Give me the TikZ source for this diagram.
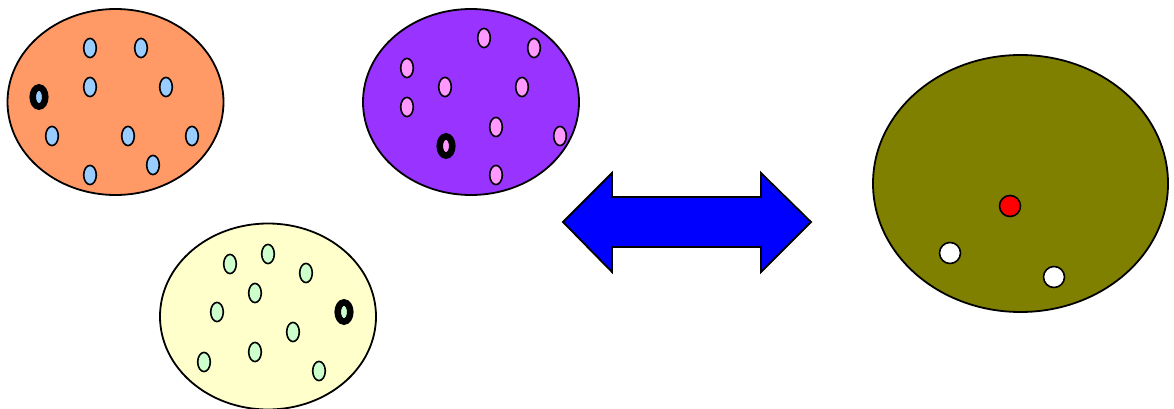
\documentclass[tikz,border=0pt]{standalone}
\begin{document}
\begin{tikzpicture}[x=1pt,y=-1pt,
  blob/.style={draw=black,line width=1.8pt},
  spot/.style={draw=black,line width=1.6pt},
  ringspot/.style={draw=black,line width=6.5pt}]
\definecolor{orangeblob}{HTML}{FF9966}
\definecolor{purpleblob}{HTML}{9933FF}
\definecolor{yellowblob}{HTML}{FFFFCC}
\definecolor{oliveblob}{HTML}{808000}
\definecolor{bluespot}{HTML}{99CCFF}
\definecolor{pinkspot}{HTML}{FF99FF}
\definecolor{greenspot}{HTML}{CCFFCC}
\useasboundingbox (0,0) rectangle (1174,409);
% orange
\draw[blob,fill=orangeblob] (115.5,102) ellipse [x radius=108, y radius=93];
\foreach \p in {(90,48),(141,48),(90,87),(166,87),(52,136),(128,136),(192,136),(153,165),(90,175)}
  \draw[spot,fill=bluespot] \p ellipse [x radius=6.3, y radius=9.6];
\draw[ringspot,fill=bluespot] (39,97) ellipse [x radius=6.3, y radius=9.6];
% purple
\draw[blob,fill=purpleblob] (471,102) ellipse [x radius=108, y radius=93];
\foreach \p in {(484,38),(534,48),(407,68),(445,87),(522,87),(407,107),(496,127),(560,136),(496,175)}
  \draw[spot,fill=pinkspot] \p ellipse [x radius=6.3, y radius=9.6];
\draw[ringspot,fill=pinkspot] (446,146) ellipse [x radius=6.3, y radius=9.6];
% yellow
\draw[blob,fill=yellowblob] (268,316.5) ellipse [x radius=108, y radius=93];
\foreach \p in {(230,264),(268,254),(306,273),(255,293),(217,312),(293,332),(255,352),(204,362),(319,371)}
  \draw[spot,fill=greenspot] \p ellipse [x radius=6.3, y radius=9.6];
\draw[ringspot,fill=greenspot] (344,312) ellipse [x radius=6.3, y radius=9.6];
% double arrow
\draw[blob,fill=blue,line join=miter]
  (563,222) -- (612,173) -- (612,197) -- (761,197) -- (761,173) -- (811,222)
  -- (761,272) -- (761,247) -- (612,247) -- (612,272) -- cycle;
% olive
\draw[blob,fill=oliveblob] (1020.5,183.5) ellipse [x radius=147.5, y radius=128.5];
\draw[spot,fill=red] (1010,206) circle [radius=10.5];
\draw[spot,fill=white] (950,253) circle [radius=10.5];
\draw[spot,fill=white] (1054,277) circle [radius=10.5];
\end{tikzpicture}
\end{document}
